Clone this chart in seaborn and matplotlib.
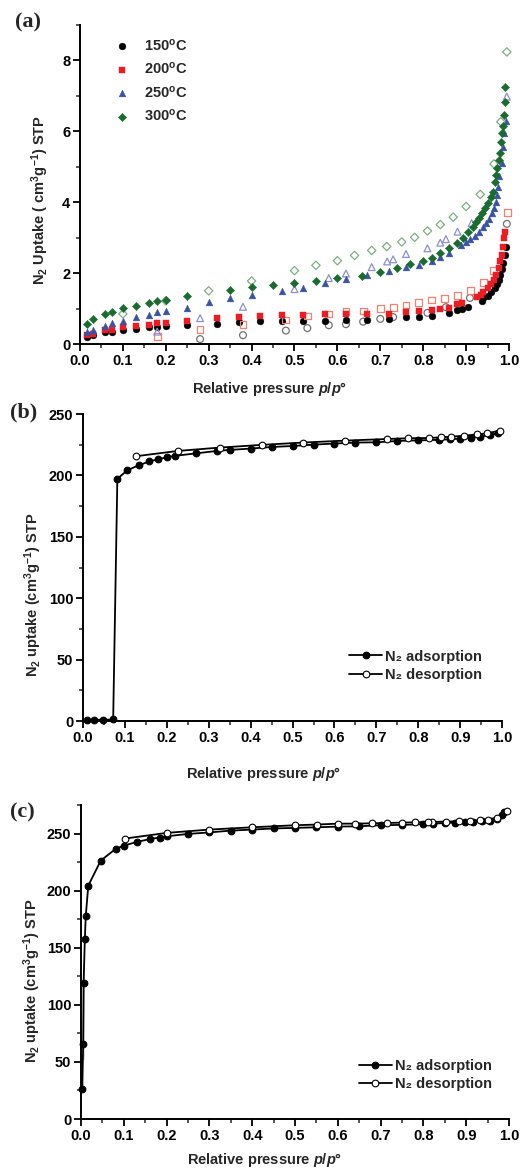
import numpy as np
import pandas as pd
import matplotlib
matplotlib.use('Agg')
import matplotlib.pyplot as plt
import seaborn as sns
from matplotlib.ticker import MultipleLocator

# ---------------- panel (a): N2 uptake at several temperatures ----------------
x150_ads = [0.016, 0.03, 0.058, 0.075, 0.10, 0.13, 0.16, 0.18, 0.20, 0.25, 0.32, 0.37, 0.42, 0.47, 0.52,
            0.57, 0.62, 0.668, 0.72, 0.76, 0.79, 0.82, 0.86, 0.88, 0.89, 0.905, 0.936, 0.94, 0.95, 0.958,
            0.967, 0.972, 0.977, 0.98, 0.984, 0.987, 0.99, 0.993]
y150_ads = [0.21, 0.26, 0.33, 0.35, 0.40, 0.43, 0.47, 0.48, 0.50, 0.53, 0.57, 0.63, 0.65, 0.65, 0.65,
            0.66, 0.68, 0.68, 0.71, 0.75, 0.77, 0.79, 0.88, 0.96, 1.00, 1.05, 1.22, 1.29, 1.36, 1.46,
            1.57, 1.69, 1.81, 1.95, 2.11, 2.28, 2.51, 2.75]
x150_des = [0.28, 0.38, 0.48, 0.53, 0.58, 0.62, 0.66, 0.70, 0.73, 0.81, 0.853, 0.909, 0.995]
y150_des = [0.14, 0.25, 0.38, 0.45, 0.53, 0.56, 0.63, 0.71, 0.76, 0.88, 1.04, 1.30, 3.39]

x200_ads = [0.016, 0.03, 0.058, 0.075, 0.10, 0.13, 0.16, 0.18, 0.20, 0.25, 0.32, 0.37, 0.42, 0.47, 0.52,
            0.57, 0.62, 0.67, 0.72, 0.76, 0.79, 0.82, 0.84, 0.86, 0.88, 0.89, 0.925, 0.935, 0.94, 0.95,
            0.957, 0.965, 0.97, 0.977, 0.98, 0.984, 0.986, 0.989, 0.99]
y200_ads = [0.25, 0.29, 0.39, 0.41, 0.48, 0.51, 0.55, 0.58, 0.60, 0.66, 0.74, 0.75, 0.80, 0.82, 0.82,
            0.84, 0.86, 0.86, 0.86, 0.90, 0.93, 0.96, 0.99, 1.03, 1.12, 1.15, 1.34, 1.39, 1.46, 1.57,
            1.69, 1.81, 1.95, 2.14, 2.33, 2.51, 2.75, 2.98, 3.17]
x200_des = [0.18, 0.28, 0.38, 0.48, 0.53, 0.58, 0.62, 0.66, 0.70, 0.73, 0.76, 0.79, 0.82, 0.85, 0.88,
            0.91, 0.94, 0.963, 0.996]
y200_des = [0.21, 0.40, 0.54, 0.68, 0.79, 0.85, 0.91, 0.93, 1.00, 1.04, 1.10, 1.17, 1.24, 1.29, 1.36,
            1.50, 1.73, 2.07, 3.72]

x250_ads = [0.016, 0.03, 0.058, 0.075, 0.10, 0.13, 0.16, 0.18, 0.20, 0.25, 0.30, 0.35, 0.40, 0.47, 0.52,
            0.57, 0.62, 0.67, 0.72, 0.76, 0.79, 0.82, 0.84, 0.86, 0.888, 0.90, 0.91, 0.92, 0.93, 0.94,
            0.947, 0.954, 0.96, 0.965, 0.97, 0.973, 0.975, 0.977, 0.984, 0.986, 0.988, 0.993]
y250_ads = [0.33, 0.40, 0.50, 0.59, 0.66, 0.75, 0.83, 0.89, 0.92, 1.03, 1.19, 1.29, 1.38, 1.51, 1.59,
            1.71, 1.84, 1.95, 2.07, 2.16, 2.24, 2.33, 2.45, 2.58, 2.80, 2.89, 2.96, 3.05, 3.17, 3.29,
            3.41, 3.52, 3.69, 3.83, 4.02, 4.21, 4.44, 4.73, 5.10, 5.57, 5.96, 6.28]
x250_des = [0.18, 0.28, 0.38, 0.50, 0.58, 0.62, 0.68, 0.716, 0.73, 0.76, 0.81, 0.84, 0.853, 0.88, 0.913,
            0.995]
y250_des = [0.35, 0.73, 1.05, 1.55, 1.86, 1.99, 2.17, 2.33, 2.39, 2.54, 2.70, 2.86, 2.96, 3.17, 3.41,
            6.98]

x300_ads = [0.016, 0.03, 0.058, 0.075, 0.10, 0.13, 0.16, 0.18, 0.20, 0.25, 0.35, 0.40, 0.45, 0.50, 0.55,
            0.60, 0.657, 0.70, 0.74, 0.77, 0.80, 0.82, 0.84, 0.86, 0.878, 0.893, 0.905, 0.915, 0.923,
            0.93, 0.936, 0.944, 0.95, 0.957, 0.962, 0.967, 0.97, 0.973, 0.977, 0.979, 0.981, 0.984,
            0.986, 0.988, 0.99, 0.991]
y300_ads = [0.57, 0.70, 0.85, 0.90, 1.01, 1.07, 1.16, 1.21, 1.24, 1.36, 1.53, 1.60, 1.67, 1.71, 1.78,
            1.85, 1.93, 2.04, 2.14, 2.26, 2.34, 2.42, 2.56, 2.70, 2.84, 2.98, 3.17, 3.29, 3.43,
            3.55, 3.69, 3.83, 3.97, 4.14, 4.30, 4.56, 4.77, 4.97, 5.20, 5.40, 5.69, 5.96,
            6.16, 6.47, 6.84, 7.25]
x300_des = [0.10, 0.20, 0.30, 0.40, 0.50, 0.55, 0.60, 0.64, 0.68, 0.715, 0.75, 0.78, 0.81, 0.84, 0.87,
            0.90, 0.933, 0.965, 0.981, 0.995]
y300_des = [0.85, 1.22, 1.50, 1.78, 2.07, 2.22, 2.35, 2.50, 2.64, 2.75, 2.88, 3.01, 3.19, 3.37, 3.58,
            3.88, 4.22, 5.08, 6.27, 8.24]

# ---------------- panel (b) ----------------
xb_ads = [0.01, 0.026, 0.048, 0.072, 0.082, 0.106, 0.134, 0.158, 0.18, 0.20, 0.22, 0.27, 0.32, 0.35,
          0.40, 0.45, 0.50, 0.55, 0.60, 0.65, 0.70, 0.75, 0.80, 0.85, 0.875, 0.90, 0.925, 0.947, 0.97, 0.99]
yb_ads = [1, 1, 1, 1.3, 197.3, 204.3, 208.4, 211.4, 213.2, 214.9, 216.0, 218.0, 220.0, 220.8,
          221.9, 223.2, 224.0, 225.1, 226.0, 226.8, 227.0, 228.1, 228.6, 229.0, 229.5, 230.0, 230.8, 231.6,
          233.0, 234.3]
xb_des = [0.994, 0.964, 0.94, 0.91, 0.879, 0.855, 0.825, 0.776, 0.726, 0.626, 0.525, 0.426, 0.326,
          0.227, 0.127]
yb_des = [236.5, 234.3, 233.5, 232.4, 231.6, 231.1, 230.5, 230.3, 229.7, 228.4, 226.8, 224.9, 222.7,
          220.0, 215.7]

# ---------------- panel (c) ----------------
xc_ads = [0.003, 0.005, 0.005, 0.006, 0.006, 0.009, 0.011, 0.017, 0.046, 0.081, 0.10, 0.131, 0.162,
          0.184, 0.20, 0.25, 0.30, 0.35, 0.40, 0.45, 0.50, 0.55, 0.60, 0.65, 0.70, 0.75, 0.80, 0.823,
          0.85, 0.874, 0.897, 0.917, 0.936, 0.955, 0.971, 0.983, 0.988]
yc_ads = [26, 52.6, 79, 106, 132, 158, 177.5, 204.4, 226.3, 236.6, 239.5, 242.7, 245.3, 246.5, 247.6,
          249.7, 251.0, 252.6, 253.5, 254.5, 255.0, 255.5, 256.1, 256.4, 257.3, 257.6, 258.2, 258.7,
          259.3, 259.6, 259.9, 260.2, 260.8, 261.4, 263.0, 266.6, 269.0]
xc_des = [0.995, 0.971, 0.95, 0.932, 0.909, 0.884, 0.853, 0.82, 0.81, 0.78, 0.75, 0.716, 0.68, 0.64,
          0.60, 0.551, 0.50, 0.40, 0.30, 0.20, 0.102]
yc_des = [269.6, 264.0, 262.3, 261.7, 261.4, 260.8, 260.5, 260.2, 260.2, 259.9, 259.6, 259.3, 259.0,
          258.7, 258.7, 257.9, 257.3, 255.5, 253.5, 250.6, 245.6]

sns.set_style('ticks')
plt.rcParams['font.family'] = ['Liberation Sans', 'DejaVu Sans']
plt.rcParams['font.weight'] = 'bold'
plt.rcParams['mathtext.fontset'] = 'custom'
plt.rcParams['mathtext.rm'] = 'Liberation Sans:bold'
plt.rcParams['mathtext.bf'] = 'Liberation Sans:bold'
plt.rcParams['mathtext.it'] = 'Liberation Sans:bold:italic'
plt.rcParams['mathtext.default'] = 'bf'

fig = plt.figure(figsize=(5.2, 11.73), dpi=100)
ax_a = fig.add_axes([0.1538, 0.7067, 0.825, 0.272])
ax_b = fig.add_axes([0.1596, 0.3853, 0.806, 0.2617])
ax_c = fig.add_axes([0.1558, 0.0460, 0.823, 0.2677])


def style_axis(ax, ymaj, ymin, ylim):
    ax.set_xlim(0, 1.0)
    ax.set_ylim(*ylim)
    ax.xaxis.set_major_locator(MultipleLocator(0.1))
    ax.xaxis.set_minor_locator(MultipleLocator(0.05))
    ax.yaxis.set_major_locator(MultipleLocator(ymaj))
    ax.yaxis.set_minor_locator(MultipleLocator(ymin))
    ax.xaxis.set_major_formatter(matplotlib.ticker.FormatStrFormatter('%.1f'))
    ax.yaxis.set_major_formatter(matplotlib.ticker.FormatStrFormatter('%d'))
    sns.despine(ax=ax)
    for s in ['left', 'bottom']:
        ax.spines[s].set_linewidth(1.4)
        ax.spines[s].set_color('black')
    ax.tick_params(which='major', direction='out', length=5, width=1.3, labelsize=10.5, colors='black', pad=2)
    ax.tick_params(which='minor', direction='out', length=3, width=1.1)
    for lab in ax.get_xticklabels() + ax.get_yticklabels():
        lab.set_fontweight('bold')
    ax.set_xlabel(r'Relative pressure $\mathit{p}$/$\mathit{p}$°', fontsize=10.5, fontweight='bold')


# panel (a)
series = [
    (x150_ads, y150_ads, x150_des, y150_des, 'o', '#000000', '#707070', r'150$^\mathbf{o}$C'),
    (x200_ads, y200_ads, x200_des, y200_des, 's', '#ed1c24', '#f4806f', r'200$^\mathbf{o}$C'),
    (x250_ads, y250_ads, x250_des, y250_des, '^', '#3953a4', '#8a90d0', r'250$^\mathbf{o}$C'),
    (x300_ads, y300_ads, x300_des, y300_des, 'D', '#1b6b30', '#7fae84', r'300$^\mathbf{o}$C'),
]
for xa, ya, xd, yd, mk, col, light, lab in series:
    size = 18 if mk == 'D' else 24
    sns.scatterplot(x=xd, y=yd, marker=mk, s=size, facecolor='none', edgecolor=light,
                    linewidth=0.9, ax=ax_a, clip_on=False)
    sns.scatterplot(x=xa, y=ya, marker=mk, s=size, color=col, edgecolor=col, linewidth=0.3,
                    ax=ax_a, label=lab, clip_on=False)
style_axis(ax_a, 2, 1, (0, 9))
ax_a.set_ylabel(r'N$_2$ Uptake ( cm$^3$g$^{-1}$) STP', fontsize=10.5, fontweight='bold')
ax_a.yaxis.set_label_coords(-0.068, 0.45)
ax_a.xaxis.set_label_coords(0.443, -0.113)
ax_a.legend(loc='center left', bbox_to_anchor=(0.05, 0.826), frameon=False, fontsize=10.5,
            handlelength=1.0, handletextpad=1.0, labelspacing=0.52, markerscale=1.0)

# panels (b) and (c)
for ax, xa, ya, xd, yd, ylim, ylab_xy, xlab_y, leg_xy in [
    (ax_b, xb_ads, yb_ads, xb_des, yb_des, (0, 250), (-0.093, 0.41), -0.143, (0.984, 0.18)),
    (ax_c, xc_ads, yc_ads, xc_des, yc_des, (0, 275), (-0.089, 0.44), -0.102, (0.991, 0.14)),
]:
    sns.lineplot(x=xa, y=ya, sort=False, marker='o', color='black', lw=1.3, ms=4.8,
                 mfc='black', mec='black', mew=0.8, ax=ax, label='N₂ adsorption', clip_on=False)
    sns.lineplot(x=xd, y=yd, sort=False, marker='o', color='black', lw=1.3, ms=4.8,
                 mfc='white', mec='black', mew=0.8, ax=ax, label='N₂ desorption', clip_on=False)
    style_axis(ax, 50, 25, ylim)
    ax.set_ylabel(r'N$_2$ uptake (cm$^3$g$^{-1}$) STP', fontsize=10.5, fontweight='bold')
    ax.yaxis.set_label_coords(*ylab_xy)
    ax.xaxis.set_label_coords(0.43, xlab_y)
    ax.legend(loc='center right', bbox_to_anchor=leg_xy, frameon=False, fontsize=10.5,
              handlelength=2.3, handletextpad=0.2, labelspacing=0.3)

for txt, xx, yy in [('(a)', 0.028, 0.981), ('(b)', 0.02, 0.648), ('(c)', 0.02, 0.307)]:
    fig.text(xx, yy, txt, fontsize=16, fontweight='bold', family='Liberation Serif', va='center')

fig.savefig('out.png', dpi=100)
